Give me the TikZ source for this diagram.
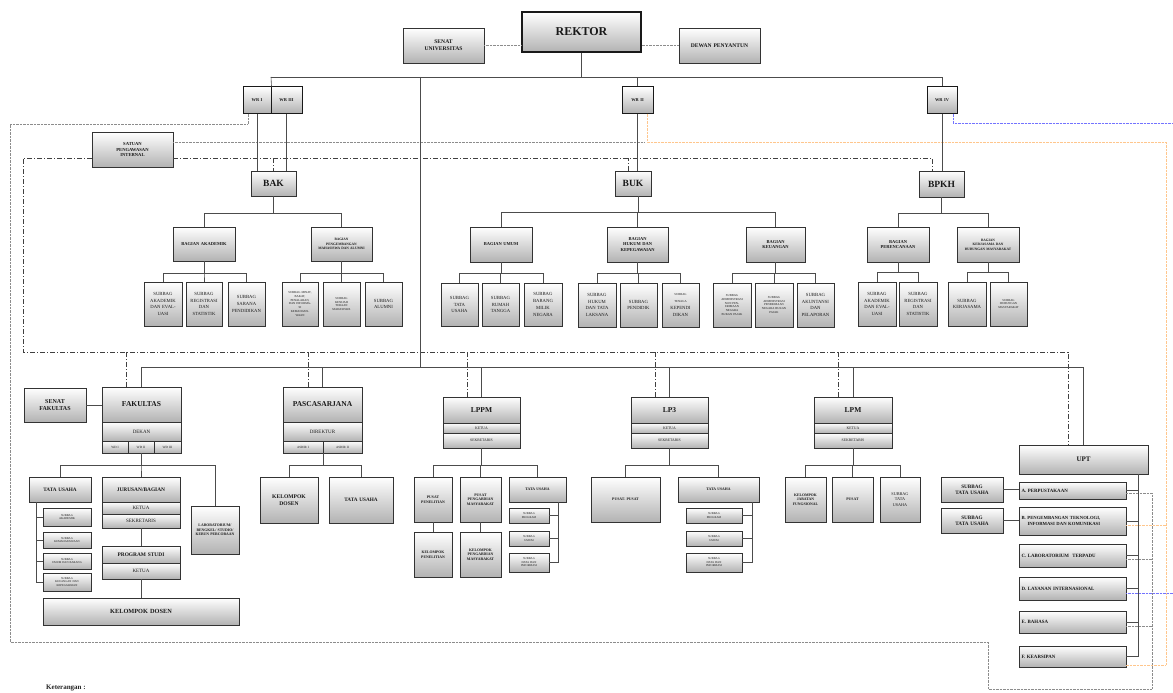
\documentclass[tikz,border=0pt]{standalone}
\usepackage{fontspec}
\setmainfont{Liberation Serif}
\usetikzlibrary{shadows,calc}
\newcommand{\fz}[2]{\fontsize{#1pt}{#2pt}\selectfont}
\newcommand{\obox}[7][]{%
 \pgfmathsetmacro\obw{#5-#3-1}%
 \node[ob,minimum width={#5-#3},minimum height={#6-#4},text width=\obw pt,#1] (#2) at ({(#3+#5)/2},{(#4+#6)/2}) {#7};}
\newcommand{\otree}[3]{\foreach \cn in {#3}{\draw[conn] (#1) -- ++(0,#2) -| (\cn.north);}}
\tikzset{
 ob/.style={draw=black!80, line width=0.5pt, top color=white, bottom color=black!30,
   drop shadow={shadow xshift=1.3pt, shadow yshift=-1.3pt, opacity=0.55},
   inner sep=0.5pt, align=center, text=black!90},
 thk/.style={line width=1.2pt, draw=black!90},
 wrb/.style={line width=1pt, draw=black!90, font=\bfseries\fz{4.4}{5}},
 conn/.style={draw=black!70, line width=0.6pt},
 gdot/.style={draw=black!45, line width=0.5pt, dash pattern=on 0.7pt off 0.7pt},
 odot/.style={draw=orange!45!white, line width=0.6pt, dash pattern=on 0.7pt off 0.7pt},
 bdot/.style={draw=blue!55!white, line width=0.6pt, dash pattern=on 0.7pt off 0.7pt},
 ddot/.style={draw=black!75, line width=0.8pt, dash pattern=on 5pt off 2pt on 1pt off 2pt},
 sBig/.style={font=\bfseries\fz{9.5}{11}},
 sHead/.style={font=\bfseries\fz{7.5}{9}},
 sBag/.style={font=\bfseries\fz{4.5}{5.8}},
 sBags/.style={font=\bfseries\fz{3.5}{4.5}},
 sSub/.style={font=\fz{4.7}{6.8}},
 sSubt/.style={font=\fz{3}{3.8}},
 sRow/.style={font=\fz{5}{6}},
 sRows/.style={font=\fz{3.2}{3.8}},
 sLbl/.style={font=\bfseries\fz{5.2}{6.4}},
 sLbls/.style={font=\bfseries\fz{3.8}{4.7}},
 sTny/.style={font=\fz{2.9}{3.5}},
 sUpt/.style={align=left, font=\bfseries\fz{4.9}{6}},
}
\begin{document}
\begin{tikzpicture}[x=1pt,y=-1pt]
\fill[white] (0,0) rectangle (1173,693);
\useasboundingbox (0,0) rectangle (1173,693);

% ---------- top ----------
\obox[thk,font=\bfseries\fz{12}{14}]{rektor}{522}{12}{641}{52}{REKTOR}
\obox[font=\bfseries\fz{5.6}{6.8}]{senu}{403}{28}{484}{63}{SENAT\\UNIVERSITAS}
\obox[font=\bfseries\fz{5.6}{6.8}]{dewan}{679}{28}{760}{63}{DEWAN PENYANTUN}
\obox[wrb]{wr1}{243}{87}{271}{113}{WR I}
\obox[wrb]{wr3}{271}{87}{302}{113}{WR III}
\obox[wrb]{wr2}{622}{87}{653}{113}{WR II}
\obox[wrb]{wr4}{927}{87}{957}{113}{WR IV}
\obox[font=\bfseries\fz{4.6}{5.9}]{spi}{92}{132}{173}{167}{SATUAN\\PENGAWASAN\\INTERNAL}

% ---------- second level ----------
\obox[sBig]{bak}{251}{171}{296}{196}{BAK}
\obox[sBig]{buk}{615}{171}{651}{196}{BUK}
\obox[sBig]{bpkh}{919}{171}{964}{197}{BPKH}

\obox[sBag]{bagak}{173}{227}{235}{261}{BAGIAN AKADEMIK}
\obox[sBags]{bagpm}{311}{227}{372}{261}{BAGIAN\\PENGEMBANGAN\\MAHASISWA DAN ALUMNI}
\obox[sBag]{bagum}{470}{227}{532}{262}{BAGIAN UMUM}
\obox[sBag]{baghk}{607}{227}{668}{262}{BAGIAN\\HUKUM DAN\\KEPEGAWAIAN}
\obox[sBag]{bagku}{746}{227}{805}{262}{BAGIAN\\KEUANGAN}
\obox[sBag]{bagpr}{867}{227}{929}{262}{BAGIAN\\PERENCANAAN}
\obox[sBags]{bagkh}{957}{227}{1019}{262}{BAGIAN\\KERJASAMA DAN\\HUBUNGAN MASYARAKAT}

\obox[sSub]{s1}{144}{282}{182}{326}{SUBBAG\\AKADEMIK\\DAN EVAL-\\UASI}
\obox[sSub]{s2}{186}{282}{222}{326}{SUBBAG\\REGISTRASI\\DAN\\STATISTIK}
\obox[sSub]{s3}{228}{282}{265}{326}{SUBBAG\\SARANA\\PENDIDIKAN}
\obox[sSubt]{s4}{282}{282}{318}{326}{SUBBAG MINAT,\\BAKAT,\\PENALARAN,\\DAN INFORMA-\\SI\\KEMAHASIS-\\WAAN}
\obox[sSubt]{s5}{323}{282}{360}{326}{SUBBAG\\KESEJAH\\TERAAN\\MAHASISWA}
\obox[sSub]{s6}{365}{282}{402}{326}{SUBBAG\\ALUMNI}
\obox[sSub]{s7}{441}{283}{478}{326}{SUBBAG\\TATA\\USAHA}
\obox[sSub]{s8}{482}{283}{519}{326}{SUBBAG\\RUMAH\\TANGGA}
\obox[sSub]{s9}{524}{283}{562}{326}{SUBBAG\\BARANG\\MILIK\\NEGARA}
\obox[sSub]{s10}{578}{283}{616}{327}{SUBBAG\\HUKUM\\DAN TATA\\LAKSANA}
\obox[sSub]{s11}{620}{283}{657}{327}{SUBBAG\\PENDIDIK}
\obox[sSub]{s12}{662}{283}{699}{327}{{\fz{3}{3.8}SUBBAG\\TENAGA}\\KEPENDI\\DIKAN}
\obox[sSubt]{s13}{713}{283}{751}{327}{SUBBAG\\ADMINISTRASI\\NON PEN-\\ERIMAAN\\NEGARA\\BUKAN PAJAK}
\obox[sSubt]{s14}{755}{283}{793}{327}{SUBBAG\\ADMINISTRASI\\PENERIMAAN\\NEGARA BUKAN\\PAJAK}
\obox[sSub]{s15}{797}{283}{834}{327}{SUBBAG\\AKUNTANSI\\DAN\\PELAPORAN}
\obox[sSub]{s16}{858}{282}{896}{326}{SUBBAG\\AKADEMIK\\DAN EVAL-\\UASI}
\obox[sSub]{s17}{899}{282}{937}{326}{SUBBAG\\REGISTRASI\\DAN\\STATISTIK}
\obox[sSub]{s18}{948}{282}{986}{326}{SUBBAG\\KERJASAMA}
\obox[sSubt]{s19}{990}{282}{1027}{326}{SUBBAG\\HUBUNGAN\\MASYARAKAT}

% ---------- fakultas ----------
\obox[font=\bfseries\fz{6}{7.4}]{senf}{24}{388}{86}{422}{SENAT\\FAKULTAS}
\obox[sHead]{fak}{102}{387}{181}{422}{FAKULTAS}
\obox[sRow]{dekan}{102}{422}{181}{441}{DEKAN}
\obox[sRows]{wd1}{102}{441}{128}{453}{WD I}
\obox[sRows]{wd2}{128}{441}{154}{453}{WD II}
\obox[sRows]{wd3}{154}{441}{181}{453}{WD III}
\obox[sLbl]{tu1}{29}{477}{91}{502}{TATA USAHA}
\obox[font=\bfseries\fz{5.4}{6.5}]{jur}{102}{477}{180}{502}{JURUSAN/BAGIAN}
\obox[sRow]{jket}{102}{502}{180}{514}{KETUA}
\obox[sRow]{jsek}{102}{514}{180}{528}{SEKRETARIS}
\obox[sLbls]{lab}{191}{506}{239}{554}{LABORATORIUM/\\BENGKEL/ STUDIO/\\KEBUN PERCOBAAN}
\obox[font=\bfseries\fz{5.4}{6.5}]{ps}{102}{546}{180}{563}{PROGRAM STUDI}
\obox[sRow]{pket}{102}{563}{180}{579}{KETUA}
\obox[font=\bfseries\fz{6.3}{7.5}]{kd}{43}{598}{239}{625}{KELOMPOK DOSEN}
\obox[sTny]{f1}{43}{508}{91}{526}{SUBBAG\\AKADEMIK}
\obox[sTny]{f2}{43}{532}{91}{548}{SUBBAG\\KEMAHASISWAAN}
\obox[sTny]{f3}{43}{553}{91}{569}{SUBBAG\\UMUM DAN BARANG}
\obox[sTny]{f4}{43}{573}{91}{591}{SUBBAG\\KEUANGAN DAN\\KEPEGAWAIAN}

% ---------- pascasarjana ----------
\obox[sHead]{pasca}{283}{387}{362}{422}{PASCASARJANA}
\obox[sRow]{dir}{283}{422}{362}{441}{DIREKTUR}
\obox[sRows]{as1}{283}{441}{323}{453}{ASDIR I}
\obox[sRows]{as2}{323}{441}{362}{453}{ASDIR II}
\obox[font=\bfseries\fz{5.6}{6.8}]{pkd}{260}{477}{318}{523}{KELOMPOK\\DOSEN}
\obox[sLbl]{ptu}{329}{477}{393}{523}{TATA USAHA}

% ---------- LPPM ----------
\obox[sHead]{lppm}{443}{397}{520}{423}{LPPM}
\obox[font=\fz{3.8}{4.3}]{lket}{443}{423}{520}{433}{KETUA}
\obox[font=\fz{3.8}{4.3}]{lsek}{443}{433}{520}{448}{SEKRETARIS}
\obox[sLbls]{lpp}{414}{477}{452}{522}{PUSAT\\PENELITIAN}
\obox[sLbls]{lpm2}{460}{477}{501}{522}{PUSAT\\PENGABDIAN\\MASYARAKAT}
\obox[sLbls]{ltu}{509}{477}{566}{502}{TATA USAHA}
\obox[sLbls]{lkp}{414}{532}{452}{577}{KELOMPOK\\PENELITIAN}
\obox[sLbls]{lkm}{460}{532}{501}{577}{KELOMPOK\\PENGABDIAN\\MASYARAKAT}
\obox[sTny]{l1}{509}{508}{549}{523}{SUBBAG\\PROGRAM}
\obox[sTny]{l2}{509}{531}{549}{546}{SUBBAG\\UMUM}
\obox[sTny]{l3}{509}{553}{549}{572}{SUBBAG\\DATA DAN\\INFORMASI}

% ---------- LP3 ----------
\obox[sHead]{lp3}{631}{397}{708}{423}{LP3}
\obox[font=\fz{3.8}{4.3}]{p3ket}{631}{423}{708}{433}{KETUA}
\obox[font=\fz{3.8}{4.3}]{p3sek}{631}{433}{708}{448}{SEKRETARIS}
\obox[sLbls]{ppusat}{591}{477}{660}{522}{PUSAT- PUSAT}
\obox[sLbls]{p3tu}{678}{477}{759}{502}{TATA USAHA}
\obox[sTny]{p1}{686}{508}{742}{523}{SUBBAG\\PROGRAM}
\obox[sTny]{p2}{686}{531}{742}{546}{SUBBAG\\UMUM}
\obox[sTny]{p3}{686}{553}{742}{572}{SUBBAG\\DATA DAN\\INFORMASI}

% ---------- LPM ----------
\obox[sHead]{lpm}{814}{397}{892}{423}{LPM}
\obox[font=\fz{3.8}{4.3}]{mket}{814}{423}{892}{433}{KETUA}
\obox[font=\fz{3.8}{4.3}]{msek}{814}{433}{892}{448}{SEKRETARIS}
\obox[sLbls]{mkjf}{785}{477}{826}{522}{KELOMPOK\\JABATAN\\FUNGSIONAL}
\obox[sLbls]{mpus}{832}{477}{873}{522}{PUSAT}
\obox[font=\fz{4.2}{5.6}]{mstu}{880}{477}{920}{522}{SUBBAG\\TATA\\USAHA}

% ---------- UPT ----------
\obox[font=\bfseries\fz{7}{8}]{upt}{1019}{445}{1148}{474}{UPT}
\obox[sUpt]{ua}{1019}{482}{1126}{499}{\hspace*{2pt}A. PERPUSTAKAAN}
\obox[sUpt,font=\bfseries\fz{4.7}{5.7}]{ub}{1019}{507}{1126}{535}{\hspace*{2pt}B. PENGEMBANGAN TEKNOLOGI,\\\hspace*{8pt}INFORMASI DAN KOMUNIKASI}
\obox[sUpt]{uc}{1019}{544}{1126}{567}{\hspace*{2pt}C. LABORATORIUM\ \ TERPADU}
\obox[sUpt]{ud}{1019}{577}{1126}{600}{\hspace*{2pt}D. LAYANAN INTERNASIONAL}
\obox[sUpt]{ue}{1019}{611}{1126}{633}{\hspace*{2pt}E. BAHASA}
\obox[sUpt]{uf}{1019}{646}{1126}{667}{\hspace*{2pt}F. KEARSIPAN}
\obox[font=\bfseries\fz{5.2}{6.4}]{ust1}{941}{477}{1003}{502}{SUBBAG\\TATA USAHA}
\obox[font=\bfseries\fz{5.2}{6.4}]{ust2}{941}{508}{1003}{533}{SUBBAG\\TATA USAHA}

\node[anchor=west,inner sep=0,font=\bfseries\fz{7}{8},text=black!85] (ket) at (46,688) {Keterangan :};

% ---------- coordinates ----------
\coordinate (hbL) at (271,77);
\coordinate (hbR) at (942,77);
\coordinate (mtop) at (420,77);
\coordinate (mbot) at (420,367);
\coordinate (bbL) at (142,367);
\coordinate (bbR) at (1083.5,367);
\coordinate (ddTL) at (23,158);
\coordinate (ddBL) at (23,352);
\coordinate (ddBR) at (1068,352);
\coordinate (ddTR) at (932,158);
\coordinate (g1) at (10,124);
\coordinate (g2) at (10,642);
\coordinate (g3) at (988,642);
\coordinate (g4) at (988,689);
\coordinate (g5) at (1152,689);
\coordinate (g6) at (1152,493);
\coordinate (gs) at (645,142);
\coordinate (o1) at (647,142);
\coordinate (o2) at (1166,142);
\coordinate (o3) at (1166,665);
\coordinate (b1) at (1173,123);

% ---------- dotted / dash-dot ----------
\draw[gdot] (senu.east) -- (senu.east -| rektor.west);
\draw[gdot] (dewan.west) -- (dewan.west -| rektor.east);
\draw[gdot] ([xshift=-9pt]wr1.south) |- (g1) -- (g2) -- (g3) -- (g4) -- (g5) -- (g6) -- (g6 -| ua.east);
\draw[gdot] ([yshift=-4pt]uc.east) -- ++(26,0);
\draw[gdot] ([yshift=-4pt]ue.east) -- ++(26,0);
\draw[gdot] ([yshift=7.5pt]spi.east) -- (gs);
\draw[odot] ([xshift=9.5pt]wr2.south) -- (o1) -- (o2) -- (o3) -- ([yshift=-8.5pt]uf.east);
\draw[odot] ([yshift=-4pt]ub.east) -- ++(40,0);
\draw[bdot] ([xshift=11pt]wr4.south) |- (b1);
\draw[bdot] ([yshift=-4.5pt]ud.east) -- ++(47,0);

\draw[ddot] ([yshift=-8.5pt]spi.west) -- (ddTL) -- (ddBL) -- (ddBR) -- ([xshift=-15.5pt]upt.north);
\draw[ddot] ([yshift=-8.5pt]spi.east) -- (ddTR) -- ([xshift=-9.5pt]bpkh.north);
\draw[ddot] (bak.north |- ddTR) -- (bak.north);
\draw[ddot] ([xshift=-5pt]buk.north) -- ++(0,-13);
\draw[ddot] ([xshift=-15pt]fak.north) -- ++(0,-35);
\draw[ddot] ([xshift=-14.5pt]pasca.north) -- ++(0,-35);
\draw[ddot] ([xshift=-14.5pt]lppm.north) -- ++(0,-45);
\draw[ddot] ([xshift=-14.5pt]lp3.north) -- ++(0,-45);
\draw[ddot] ([xshift=-15pt]lpm.north) -- ++(0,-45);

% ---------- solid connectors ----------
\draw[conn] (rektor.south) -- (rektor.south |- hbL);
\draw[conn] (hbL) -- (hbR);
\draw[conn] (hbL) -- (wr1.north east);
\draw[conn] (wr2.north) -- (wr2.north |- hbL);
\draw[conn] (wr4.north) -- (wr4.north |- hbL);
\draw[conn] (mtop) -- (mbot);
\draw[conn] (bbL) -- (bbR);
\draw[conn] (wr1.south) -- (wr1.south |- bak.north);
\draw[conn] (wr3.south) -- (wr3.south |- bak.north);
\draw[conn] (wr2.south) -- (wr2.south |- buk.north);
\draw[conn] (wr4.south) -- (wr4.south |- bpkh.north);

\otree{bak.south}{17}{bagak,bagpm}
\otree{[xshift=5pt]buk.south}{16}{bagum,baghk,bagku}
\otree{bpkh.south}{16}{bagpr,bagkh}
\otree{bagak.south}{12}{s1,s2,s3}
\otree{bagpm.south}{12}{s4,s5,s6}
\otree{bagum.south}{11}{s7,s8,s9}
\otree{baghk.south}{11}{s10,s11,s12}
\otree{bagku.south}{11}{s13,s14,s15}
\otree{bagpr.south}{10}{s16,s17}
\otree{bagkh.south}{10}{s18,s19}

\foreach \un in {fak,pasca,lppm,lp3,lpm,upt}{\draw[conn] (\un.north) -- (\un.north |- bbL);}
\draw[conn] (senf.east) -- (senf.east -| fak.west);
\otree{wd2.south}{12}{tu1,jur,lab}
\draw[conn] (jsek.south) -- (ps.north);
\draw[conn] (pket.south) -- (kd.north);
\foreach \cn in {f1,f2,f3,f4}{\draw[conn] ([xshift=-24pt]tu1.south) |- (\cn.west);}
\otree{as1.south east}{12}{pkd,ptu}
\otree{lsek.south}{17}{lpp,lpm2,ltu}
\draw[conn] (lpp.south) -- (lkp.north);
\draw[conn] (lpm2.south) -- (lkm.north);
\foreach \cn in {l1,l2,l3}{\draw[conn] ([xshift=20.5pt]ltu.south) |- (\cn.east);}
\otree{p3sek.south}{17}{ppusat,p3tu}
\foreach \cn in {p1,p2,p3}{\draw[conn] ([xshift=33.5pt]p3tu.south) |- (\cn.east);}
\otree{msek.south}{17}{mkjf,mpus,mstu}
\foreach \cn in {ua,ub,uc,ud,ue,uf}{\draw[conn] ([xshift=54.5pt]upt.south) |- (\cn.east);}
\draw[conn] (ust1.east) -- (ust1.east -| ua.west);
\draw[conn] (ust2.east) -- (ust2.east -| ub.west);
\end{tikzpicture}
\end{document}
